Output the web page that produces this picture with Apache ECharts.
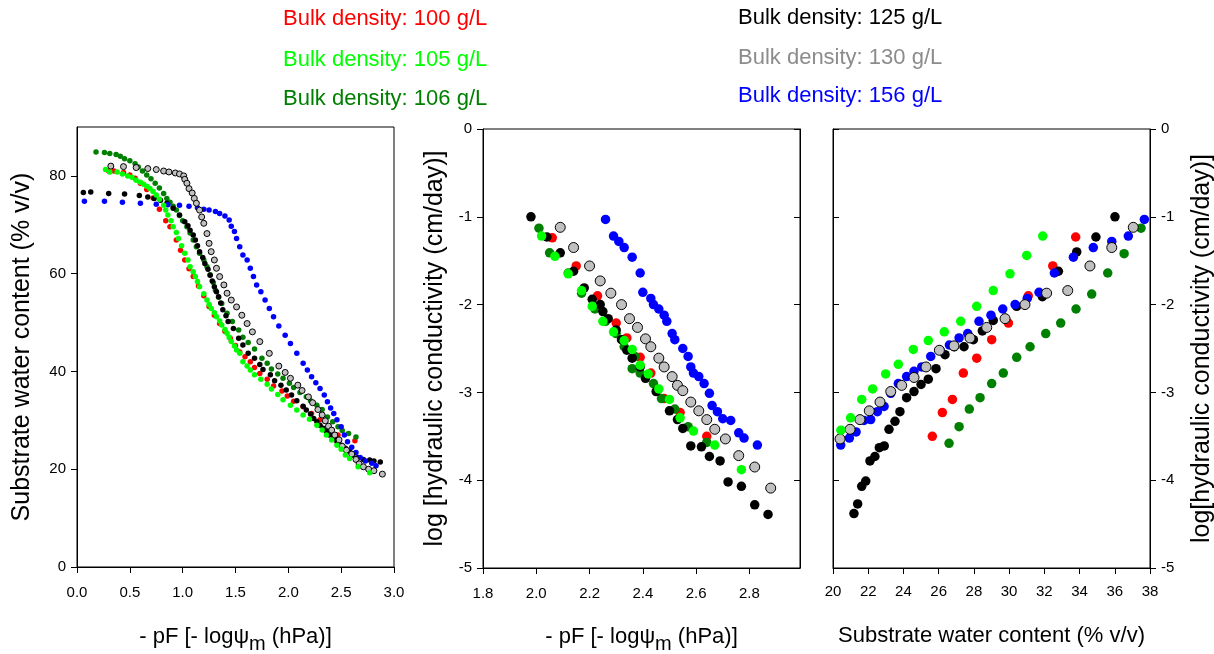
<!DOCTYPE html>
<html>
<head>
<meta charset="utf-8">
<script src="https://cdn.jsdelivr.net/npm/echarts@6/dist/echarts.min.js"></script>
<style>
  html, body { margin: 0; padding: 0; background: #fff; }
  #chart { width: 1214px; height: 654px; }
</style>
</head>
<body>
<div id="chart"></div>
<script>
// legend labels (bulk density)
const densities = ['100', '105', '106', '125', '130', '156'];
const colors = ['#ff0000', '#00ff00', '#008000', '#000000', '#c0c0c0', '#0000ff'];

// left panel: pF vs substrate water content (% v/v)
const pfRed100 = [[0.30,81.0],[0.35,81.0],[0.44,80.7],[0.50,80.2],[0.55,79.5],[0.60,78.5],[0.66,77.2],[0.72,75.5],[0.78,73.2],[0.84,70.8],[0.88,69.6],[0.94,66.9],[0.98,64.8],[1.02,62.8],[1.06,61.0],[1.10,59.4],[1.15,57.5],[1.20,55.5],[1.25,53.3],[1.30,51.5],[1.35,49.8],[1.40,48.2],[1.45,46.8],[1.50,45.3],[1.54,44.0],[1.59,43.0],[1.64,42.0],[1.68,40.8],[1.73,39.6],[1.80,38.4],[1.86,37.0],[1.94,36.0],[1.99,35.0],[2.05,33.9],[2.14,32.8],[2.22,31.4],[2.30,30.1],[2.39,28.2],[2.47,27.0],[2.63,25.8]];
const pfLime105 = [[0.27,81.3],[0.31,80.8],[0.38,80.8],[0.43,80.4],[0.48,80.0],[0.52,79.7],[0.56,79.1],[0.60,78.7],[0.63,78.3],[0.66,77.9],[0.69,77.4],[0.72,76.8],[0.75,76.1],[0.78,75.2],[0.82,74.0],[0.84,73.0],[0.86,72.0],[0.89,70.8],[0.91,69.6],[0.94,68.4],[0.96,67.2],[0.99,65.7],[1.02,64.2],[1.05,62.8],[1.07,61.4],[1.10,60.4],[1.12,59.4],[1.14,58.4],[1.16,57.3],[1.20,55.9],[1.23,54.6],[1.25,53.7],[1.27,52.9],[1.30,52.0],[1.32,51.2],[1.35,50.3],[1.37,49.5],[1.40,48.6],[1.42,47.8],[1.44,47.0],[1.46,46.1],[1.49,45.2],[1.51,44.4],[1.54,43.7],[1.57,42.0],[1.61,41.1],[1.64,40.3],[1.68,39.3],[1.74,38.4],[1.80,37.4],[1.84,36.4],[1.90,35.3],[1.95,34.2],[2.02,33.1],[2.08,32.1],[2.14,31.1],[2.20,30.2],[2.27,29.0],[2.32,28.0],[2.36,27.0],[2.41,26.0],[2.46,24.9],[2.50,24.1],[2.54,22.9],[2.58,22.2],[2.66,20.5],[2.77,19.3]];
const pfGreen106 = [[0.18,84.9],[0.26,84.8],[0.31,84.6],[0.37,84.4],[0.41,84.0],[0.45,83.5],[0.50,83.1],[0.55,82.5],[0.58,81.8],[0.62,81.0],[0.66,80.2],[0.70,79.4],[0.74,78.5],[0.78,77.5],[0.82,76.4],[0.85,75.4],[0.88,74.6],[0.91,73.8],[0.94,73.0],[0.97,71.9],[1.00,70.8],[1.04,69.6],[1.07,68.3],[1.10,66.9],[1.13,65.5],[1.16,64.2],[1.20,62.8],[1.23,61.4],[1.26,59.8],[1.29,58.2],[1.31,56.6],[1.34,55.2],[1.37,53.9],[1.42,51.9],[1.47,50.2],[1.53,48.5],[1.57,47.0],[1.62,45.9],[1.68,44.6],[1.75,42.7],[1.80,41.7],[1.84,40.5],[1.90,39.5],[1.95,38.6],[2.01,37.6],[2.05,36.7],[2.11,35.7],[2.17,34.8],[2.21,34.0],[2.27,33.1],[2.32,32.2],[2.37,30.7],[2.42,29.7],[2.47,28.7],[2.51,27.9],[2.57,27.3],[2.64,26.6]];
const pfBlack125 = [[0.06,76.6],[0.13,76.7],[0.30,76.4],[0.45,76.3],[0.59,76.0],[0.67,75.7],[0.73,75.4],[0.79,75.0],[0.85,74.4],[0.91,73.4],[0.97,72.0],[1.02,70.6],[1.05,69.8],[1.07,68.9],[1.10,67.9],[1.12,66.9],[1.14,65.7],[1.16,64.5],[1.19,63.3],[1.21,62.1],[1.24,60.9],[1.26,59.7],[1.28,58.5],[1.30,57.3],[1.32,56.3],[1.34,55.3],[1.36,54.0],[1.38,52.6],[1.41,51.4],[1.43,50.2],[1.48,48.8],[1.53,46.8],[1.57,45.4],[1.62,43.7],[1.68,42.7],[1.73,41.4],[1.76,40.4],[1.83,39.3],[1.87,38.1],[1.93,37.2],[1.98,36.2],[2.03,35.2],[2.08,34.0],[2.14,32.9],[2.17,32.1],[2.21,31.3],[2.24,30.4],[2.27,29.7],[2.30,29.0],[2.33,28.4],[2.36,27.7],[2.39,27.0],[2.43,26.3],[2.46,25.6],[2.50,24.9],[2.54,24.3],[2.58,23.6],[2.61,22.9],[2.66,22.4],[2.71,22.0],[2.77,21.9],[2.81,21.7],[2.87,21.5]];
const pfGray130 = [[0.32,82.0],[0.44,81.9],[0.56,81.7],[0.67,81.5],[0.75,81.3],[0.82,81.0],[0.87,80.8],[0.93,80.6],[0.97,80.4],[1.01,80.0],[1.02,79.3],[1.04,78.5],[1.06,77.4],[1.09,76.5],[1.11,75.4],[1.13,74.4],[1.16,73.0],[1.18,71.6],[1.20,70.3],[1.23,68.2],[1.25,66.2],[1.27,64.5],[1.30,62.8],[1.32,61.1],[1.35,59.4],[1.39,57.7],[1.42,56.0],[1.46,54.6],[1.51,53.2],[1.56,51.5],[1.61,49.8],[1.66,48.1],[1.73,46.1],[1.82,43.7],[1.91,41.1],[1.97,39.8],[2.02,38.6],[2.09,37.2],[2.13,36.1],[2.19,34.8],[2.23,33.6],[2.28,32.2],[2.32,31.1],[2.35,29.9],[2.38,28.8],[2.41,28.0],[2.44,27.0],[2.48,26.0],[2.51,24.7],[2.55,23.9],[2.60,23.1],[2.64,22.0],[2.67,21.1],[2.71,20.5],[2.76,20.0],[2.81,19.7],[2.89,19.0]];
const pfBlue156 = [[0.07,74.8],[0.26,74.8],[0.43,74.6],[0.60,74.4],[0.75,74.2],[0.86,74.1],[0.97,74.0],[1.06,73.8],[1.14,73.5],[1.20,73.2],[1.25,73.0],[1.31,72.7],[1.35,72.3],[1.40,71.8],[1.44,71.0],[1.46,69.7],[1.49,68.6],[1.51,67.2],[1.54,65.5],[1.57,63.8],[1.61,62.8],[1.64,61.1],[1.67,59.4],[1.70,57.7],[1.74,56.3],[1.78,54.6],[1.82,52.9],[1.86,51.2],[1.91,49.3],[1.97,47.4],[2.02,45.7],[2.08,43.7],[2.14,41.7],[2.18,40.3],[2.22,38.9],[2.26,37.7],[2.30,36.5],[2.34,35.2],[2.37,33.8],[2.40,32.5],[2.43,31.4],[2.46,30.1],[2.50,28.7],[2.53,27.0],[2.56,25.6],[2.60,24.5],[2.64,23.4],[2.68,22.4],[2.73,21.7],[2.79,21.2],[2.83,20.7]];

// middle panel: pF vs log hydraulic conductivity
const kpfRed100 = [[2.06,-1.24],[2.15,-1.56],[2.23,-1.90],[2.30,-2.21],[2.34,-2.38],[2.39,-2.60],[2.43,-2.78],[2.48,-3.07],[2.54,-3.23],[2.64,-3.50]];
const kpfLime105 = [[2.02,-1.22],[2.07,-1.45],[2.12,-1.65],[2.17,-1.84],[2.21,-2.02],[2.25,-2.19],[2.29,-2.31],[2.33,-2.41],[2.36,-2.51],[2.39,-2.69],[2.42,-2.79],[2.46,-2.96],[2.50,-3.08],[2.54,-3.29],[2.59,-3.44],[2.67,-3.60],[2.77,-3.88]];
const kpfGreen106 = [[2.01,-1.13],[2.05,-1.41],[2.12,-1.64],[2.17,-1.87],[2.22,-2.05],[2.26,-2.19],[2.30,-2.33],[2.33,-2.48],[2.37,-2.59],[2.36,-2.73],[2.39,-2.78],[2.44,-2.90],[2.47,-3.07],[2.52,-3.19],[2.57,-3.39],[2.64,-3.57]];
const kpfBlack125 = [[1.98,-1.00],[2.04,-1.23],[2.09,-1.41],[2.14,-1.62],[2.18,-1.81],[2.21,-1.94],[2.24,-2.00],[2.25,-2.08],[2.27,-2.16],[2.30,-2.29],[2.32,-2.40],[2.34,-2.52],[2.36,-2.61],[2.39,-2.71],[2.41,-2.84],[2.45,-2.99],[2.50,-3.21],[2.53,-3.31],[2.55,-3.41],[2.58,-3.61],[2.62,-3.62],[2.65,-3.73],[2.69,-3.78],[2.72,-4.02],[2.77,-4.07],[2.82,-4.28],[2.87,-4.39]];
const kpfGray130 = [[2.09,-1.12],[2.14,-1.35],[2.20,-1.56],[2.24,-1.73],[2.28,-1.87],[2.32,-2.00],[2.35,-2.16],[2.38,-2.26],[2.41,-2.39],[2.43,-2.48],[2.46,-2.61],[2.48,-2.71],[2.51,-2.82],[2.53,-2.92],[2.55,-2.98],[2.58,-3.11],[2.61,-3.21],[2.64,-3.31],[2.67,-3.42],[2.71,-3.53],[2.76,-3.72],[2.82,-3.85],[2.88,-4.09]];
const kpfBlue156 = [[2.26,-1.03],[2.29,-1.22],[2.31,-1.28],[2.33,-1.35],[2.36,-1.46],[2.39,-1.64],[2.40,-1.86],[2.43,-1.93],[2.44,-2.00],[2.46,-2.05],[2.48,-2.12],[2.49,-2.19],[2.51,-2.33],[2.52,-2.40],[2.55,-2.50],[2.57,-2.59],[2.58,-2.71],[2.59,-2.78],[2.61,-2.82],[2.63,-2.90],[2.65,-3.01],[2.66,-3.15],[2.68,-3.22],[2.70,-3.30],[2.73,-3.32],[2.76,-3.46],[2.78,-3.52],[2.83,-3.60]];

// right panel: substrate water content vs log hydraulic conductivity
const kswRed100 = [[33.78,-1.23],[32.48,-1.56],[31.09,-1.90],[29.96,-2.21],[29.01,-2.40],[28.16,-2.61],[27.40,-2.78],[26.78,-3.08],[26.21,-3.23],[25.64,-3.50]];
const kswLime105 = [[31.91,-1.22],[31.00,-1.44],[30.05,-1.65],[29.10,-1.84],[28.16,-2.02],[27.25,-2.19],[26.32,-2.31],[25.41,-2.41],[24.56,-2.51],[23.71,-2.68],[22.99,-2.79],[22.25,-2.96],[21.63,-3.08],[21.00,-3.29],[20.45,-3.43]];
const kswGreen106 = [[37.49,-1.13],[36.53,-1.42],[35.60,-1.64],[34.69,-1.88],[33.80,-2.05],[32.93,-2.21],[32.08,-2.33],[31.19,-2.48],[30.43,-2.60],[29.67,-2.78],[29.01,-2.90],[28.35,-3.06],[27.74,-3.19],[27.16,-3.39],[26.59,-3.58]];
const kswBlack125 = [[36.01,-1.00],[34.93,-1.23],[33.84,-1.40],[32.80,-1.62],[31.89,-1.91],[30.43,-2.02],[29.10,-2.18],[28.48,-2.30],[27.97,-2.40],[27.44,-2.48],[26.89,-2.48],[26.36,-2.57],[25.85,-2.73],[25.41,-2.85],[25.00,-2.91],[24.60,-2.99],[24.18,-3.06],[23.80,-3.22],[23.52,-3.33],[23.18,-3.42],[22.91,-3.61],[22.63,-3.63],[22.38,-3.73],[22.10,-3.78],[21.86,-4.01],[21.63,-4.07],[21.40,-4.27],[21.19,-4.38]];
const kswGray130 = [[37.05,-1.12],[35.83,-1.35],[34.59,-1.56],[33.33,-1.84],[32.13,-1.87],[30.90,-2.00],[29.77,-2.16],[28.73,-2.26],[27.78,-2.38],[26.87,-2.47],[26.04,-2.52],[25.28,-2.71],[24.60,-2.83],[23.90,-2.92],[23.28,-2.99],[22.67,-3.11],[22.06,-3.21],[21.53,-3.31],[20.97,-3.42],[20.40,-3.53]];
const kswBlue156 = [[37.68,-1.03],[36.77,-1.22],[35.83,-1.28],[34.78,-1.35],[33.65,-1.46],[32.57,-1.64],[31.70,-1.86],[31.03,-1.93],[30.34,-2.00],[29.64,-2.05],[28.97,-2.12],[28.29,-2.19],[27.65,-2.33],[27.16,-2.38],[26.61,-2.46],[26.08,-2.52],[25.55,-2.59],[25.04,-2.71],[24.60,-2.76],[24.18,-2.82],[23.71,-2.90],[23.28,-3.01],[22.90,-3.16],[22.52,-3.22],[22.14,-3.31],[21.76,-3.32],[21.31,-3.45],[20.93,-3.52],[20.44,-3.60]];

const FONT = '"Liberation Sans", Arial, sans-serif';

const chart = echarts.init(document.getElementById('chart'));

// drawing order: red, dark green, black, blue, gray, lime (lime on top)
const order = [0, 2, 3, 5, 4, 1];
const leftData = [pfRed100, pfLime105, pfGreen106, pfBlack125, pfGray130, pfBlue156];
const midData = [kpfRed100, kpfLime105, kpfGreen106, kpfBlack125, kpfGray130, kpfBlue156];
const rightData = [kswRed100, kswLime105, kswGreen106, kswBlack125, kswGray130, kswBlue156];

function scatter(data, i, xi, yi, size) {
  const isGray = i === 4;
  return {
    type: 'scatter',
    name: 'Bulk density: ' + densities[i] + ' g/L',
    xAxisIndex: xi,
    yAxisIndex: yi,
    data: data,
    symbol: 'circle',
    symbolSize: isGray ? size + 0.5 : size,
    itemStyle: {
      color: colors[i],
      borderColor: isGray ? '#000' : colors[i],
      borderWidth: isGray ? 1 : 0,
      opacity: 1
    },
    emphasis: { disabled: true },
    z: 2
  };
}

const series = [];
order.forEach((i) => series.push(scatter(leftData[i], i, 0, 0, 5.5)));
order.forEach((i) => series.push(scatter(midData[i], i, 1, 1, 9.5)));
order.forEach((i) => series.push(scatter(rightData[i], i, 2, 3, 9.5)));

const tickLabel = { color: '#000', fontSize: 15, fontFamily: FONT };
const xNameStyle = { color: '#000', fontSize: 22, fontFamily: FONT };
const yNameStyle = { color: '#000', fontSize: 25, fontFamily: FONT };
const pfName = {
  color: '#000', fontSize: 22, fontFamily: FONT, lineHeight: 34,
  rich: {
    m: { fontSize: 20, fontFamily: FONT, color: '#000', verticalAlign: 'bottom', lineHeight: 34 }
  }
};
const axisLine = { show: true, onZero: false, lineStyle: { color: '#000', width: 1 } };
const tickOut = { show: true, inside: false, length: 6, lineStyle: { color: '#000' } };
const tickIn = { show: true, inside: true, length: 6, lineStyle: { color: '#000' } };

const legendLeft = [0, 1, 2];
const legendRight = [3, 4, 5];
const legendColors = ['#ff0000', '#00ff00', '#008000', '#000000', '#8c8c8c', '#0000ff'];
const legendY = [21, 62, 101];
const legendYR = [20, 60, 98];
const graphic = [];
legendLeft.forEach((i, k) => graphic.push({
  type: 'text', left: 283, top: legendY[k] - 13,
  style: { text: 'Bulk density: ' + densities[i] + ' g/L', fill: legendColors[i], font: '22px ' + FONT }
}));
legendRight.forEach((i, k) => graphic.push({
  type: 'text', left: 738, top: legendYR[k] - 13,
  style: { text: 'Bulk density: ' + densities[i] + ' g/L', fill: legendColors[i], font: '22px ' + FONT }
}));

const gridBase = { show: true, borderColor: '#000', borderWidth: 1, containLabel: false, outerBoundsMode: 'none' };

const option = {
  animation: false,
  backgroundColor: '#fff',
  textStyle: { fontFamily: FONT },
  graphic: graphic,
  grid: [
    Object.assign({ left: 77, top: 127, width: 317, height: 440 }, gridBase),
    Object.assign({ left: 483, top: 129, width: 317, height: 439 }, gridBase),
    Object.assign({ left: 833, top: 129, width: 317, height: 439 }, gridBase)
  ],
  xAxis: [
    {
      gridIndex: 0, type: 'value', min: 0, max: 3, interval: 0.5,
      axisLine, axisTick: tickOut, splitLine: { show: false },
      axisLabel: Object.assign({ margin: 18, formatter: (v) => v.toFixed(1) }, tickLabel),
      name: '- pF [- log\u03c8{m|m} (hPa)]', nameLocation: 'middle', nameGap: 53, nameTextStyle: pfName
    },
    {
      gridIndex: 1, type: 'value', min: 1.8, max: 2.99, interval: 0.2,
      axisLine, axisTick: tickOut, splitLine: { show: false },
      axisLabel: Object.assign({ margin: 18, showMaxLabel: false, formatter: (v) => v.toFixed(1) }, tickLabel),
      name: '- pF [- log\u03c8{m|m} (hPa)]', nameLocation: 'middle', nameGap: 52, nameTextStyle: pfName
    },
    {
      gridIndex: 2, type: 'value', min: 20, max: 38, interval: 2,
      axisLine, axisTick: tickOut, splitLine: { show: false },
      axisLabel: Object.assign({ margin: 16 }, tickLabel),
      name: 'Substrate water content (% v/v)', nameLocation: 'middle', nameGap: 57, nameTextStyle: xNameStyle
    }
  ],
  yAxis: [
    {
      gridIndex: 0, type: 'value', min: 0, max: 90, interval: 20, position: 'left',
      axisLine, axisTick: tickOut, splitLine: { show: false },
      axisLabel: Object.assign({ margin: 11, showMaxLabel: false }, tickLabel),
      name: 'Substrate water content (% v/v)', nameLocation: 'middle', nameGap: 42, nameRotate: 90,
      nameTextStyle: yNameStyle
    },
    {
      gridIndex: 1, type: 'value', min: -5, max: 0, interval: 1, position: 'left',
      axisLine, axisTick: tickOut, splitLine: { show: false },
      axisLabel: Object.assign({ margin: 11 }, tickLabel),
      name: 'log [hydraulic conductivity (cm/day)]', nameLocation: 'middle', nameGap: 35, nameRotate: 90,
      nameTextStyle: yNameStyle
    },
    {
      gridIndex: 1, type: 'value', min: -5, max: 0, interval: 1, position: 'right',
      axisLine, axisTick: tickIn, splitLine: { show: false }, axisLabel: { show: false }
    },
    {
      gridIndex: 2, type: 'value', min: -5, max: 0, interval: 1, position: 'right',
      axisLine, axisTick: tickOut, splitLine: { show: false },
      axisLabel: Object.assign({ margin: 11 }, tickLabel),
      name: 'log[hydraulic conductivity (cm/day)]', nameLocation: 'middle', nameGap: 40, nameRotate: 90,
      nameTextStyle: yNameStyle
    },
    {
      gridIndex: 2, type: 'value', min: -5, max: 0, interval: 1, position: 'left',
      axisLine, axisTick: tickIn, splitLine: { show: false }, axisLabel: { show: false }
    }
  ],
  series: series
};

chart.setOption(option);
</script>
</body>
</html>
